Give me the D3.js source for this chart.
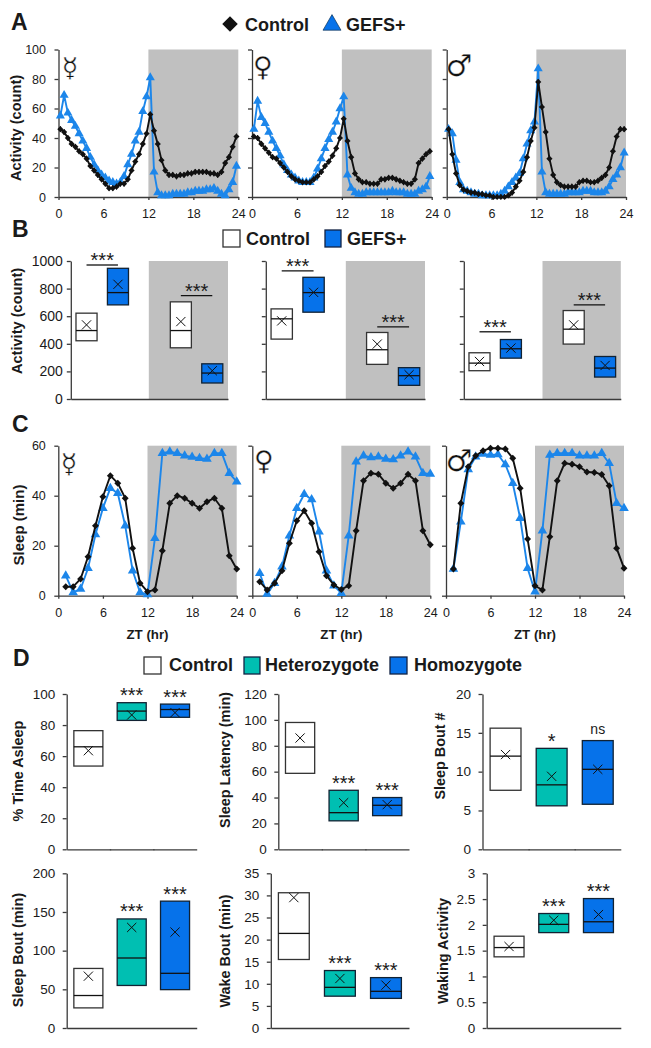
<!DOCTYPE html>
<html><head><meta charset="utf-8">
<script src="https://cdn.jsdelivr.net/npm/d3@7/dist/d3.min.js"></script>
<style>html,body{margin:0;background:#fff}svg{display:block}text{font-family:"Liberation Sans",Arial,sans-serif;fill:#1a1a1a}</style>
</head><body><svg id="c" width="651" height="1048"></svg>
<script>
// ---------- data ----------
const sexSymbols = ["\u263F","\u2640","\u2642"];
const activityTicks = [0,20,40,60,80,100];
const sleepTicks = [0,20,40,60];
const ztTicks = [0,6,12,18,24];
const boxTicksB = [0,200,400,600,800,1000];

const actCtrlHerm = [46,44,40,36,34,31,29,26,21,18,15,12,9,6,6,7,9,9,12,18,24,29,36,43,56,45,36,25,18,15,15,14,15,15,16,16,17,17,17,17,16,16,15,17,23,27,34,41];
const actGefsHerm = [55,69,57,52,48,43,38,33,27,22,18,15,13,11,10,9,10,14,22,29,38,44,58,68,81,17,3,1,1,1,2,2,2,2,3,3,4,4,4,5,5,6,4,2,1,5,10,21];
const actCtrlFem = [41,40,36,33,30,27,26,23,20,17,14,12,11,10,10,10,12,14,17,21,24,28,33,40,53,38,27,16,12,10,10,9,9,9,12,12,13,13,12,11,10,9,9,12,23,26,29,31];
const actGefsFem = [46,65,54,50,44,38,33,28,22,18,15,13,11,10,10,10,13,19,26,33,39,44,51,60,68,15,6,3,2,2,3,3,3,3,3,3,3,4,3,3,3,2,2,2,4,5,7,14];
const actCtrlMale = [46,29,16,8,5,4,3,3,2,2,1,1,0,0,0,0,1,3,7,11,17,27,38,47,78,61,44,26,15,10,8,7,7,7,7,10,11,11,10,10,11,13,15,20,31,41,46,46];
const actGefsMale = [46,43,25,10,5,4,3,2,2,1,1,1,1,1,2,4,7,10,13,16,26,36,45,51,87,17,3,2,2,2,2,2,3,3,3,3,4,4,4,3,3,3,4,7,12,15,20,30];

const slpCtrlHerm = [3.6,3.6,6.7,15.6,28,39.6,48,45,39,19,5,1.6,2.3,18,37,40,39,37,35,37.6,39,35,16,10.7];
const slpGefsHerm = [8,1.3,2.7,11,24.5,35,43,41,28,10,1.3,0.5,23,57,57.6,57,56,55.5,55,54.7,57,57,49,45.6];
const slpCtrlFem = [5.6,2.3,5,10,21,30,34,29,17.6,8,4.3,2.5,4,26,46,49,48.6,45,43,45,48.6,46,26,20.4];
const slpGefsFem = [9,0.7,5,11.6,24,35,40.6,38.5,25.6,10,4,1,24,53.6,56,55.3,55.6,54.7,54.5,56,57.6,55.6,49,48.7];
const slpCtrlMale = [10.7,37,51.6,56,58,59,59,58.7,55,43,22.7,4,2.3,23.6,46,53,52.6,51.6,49.5,49.3,48.5,44,19,11];
const slpGefsMale = [10.7,29.6,50.5,55.6,56.7,56.3,56.5,52.5,45,31,11,1.6,26,56.3,57,57,57,56,56,56,57,53,37,35];

const phaseGroups = ["lightControl","lightGefs","gap","darkControl","darkGefs"];
const bTop  = [[622,947,null,704,255],[653,882,null,482,227],[335,431,null,641,308]];
const bBot  = [[422,682,null,371,116],[434,629,null,251,99],[205,296,null,398,159]];
const bMed  = [[496,771,null,496,188],[581,771,null,357,169],[260,364,null,506,224]];
const bMean = [[537,831,null,561,205],[566,773,null,398,176],[272,369,null,537,243]];
const bSigLight = [971,928,487];
const bSigDark  = [749,523,682];

const genotypes = ["Control","Heterozygote","Homozygote"];
const dTitles = ["% Time Asleep","Sleep Latency (min)","Sleep Bout #","Sleep Bout (min)","Wake Bout (min)","Waking Activity"];
const dMax = [100,120,20,200,35,3];
const dTicks = [[0,20,40,60,80,100],[0,20,40,60,80,100,120],[0,5,10,15,20],[0,50,100,150,200],[0,5,10,15,20,25,30,35],[0,0.5,1,1.5,2,2.5,3]];
const dTop  = [[76.4,94.4,93.5],[98,45.6,40],[15.6,13,14],[77,141,164],[30.6,13,11.4],[1.78,2.22,2.51]];
const dBot  = [[53.6,83,85],[58.7,22,26],[7.6,5.6,5.8],[26,55,49.6],[15.5,7.2,6.7],[1.38,1.85,1.85]];
const dMed  = [[66,89,90],[79,28.3,34],[12,8.3,10.3],[42,90.5,70.7],[21.4,9.2,8.3],[1.56,2.01,2.06]];
const dMean = [[63.5,86.5,88],[86,36,34.5],[12.2,9.4,10.3],[67,130,124],[29.5,11.2,9.7],[1.58,2.09,2.2]];
const dSig  = [["","***","***"],["","***","***"],["","*","ns"],["","***","***"],["","***","***"],["","***","***"]];

// ---------- styles ----------
const BLUE_LINE="#1c86ea", BLUE_BOX="#0672ea", TEAL="#00bfb2", GRAY="#c0c0c0", AX="#3a3a3a", INK="#111";
const svg=d3.select("#c");

function label(x,y,str,size,weight,anchor,rot){
  const t=svg.append("text").attr("font-size",size).attr("font-weight",weight||"normal").attr("text-anchor",anchor||"start").text(str);
  t.attr("transform",`translate(${x},${y})`+(rot?` rotate(${rot})`:""));
  return t;
}
function sexMark(x,y,str,size){
  label(x,y,str,size,"normal","middle").style("font-family","'DejaVu Sans'").style("fill","#111").style("stroke","#fff").style("stroke-width",0.35);
}
function styleAxis(g,size){
  g.selectAll(".domain,line").attr("stroke",AX).attr("stroke-width",1.3);
  g.selectAll("text").attr("font-size",size).attr("fill","#222");
}
function leftAxis(x,yScale,ticks,labelled,size,pad){
  const a=d3.axisLeft(yScale).tickValues(ticks).tickSizeInner(4).tickSizeOuter(0).tickPadding(pad);
  a.tickFormat(labelled?(d=>d):(()=>""));
  const g=svg.append("g").attr("transform",`translate(${x},0)`).call(a);
  styleAxis(g,size);
}
function bottomAxis(y,xScale,ticks,labelled,size,tick,pad){
  const a=d3.axisBottom(xScale).tickValues(ticks).tickSizeInner(tick).tickSizeOuter(0).tickPadding(pad);
  a.tickFormat(labelled?(d=>d):(()=>""));
  const g=svg.append("g").attr("transform",`translate(0,${y})`).call(a);
  styleAxis(g,size);
}
function series(x,y,hours,vals,color,sym,size,err,rot){
  const line=d3.line().x((d,i)=>x(hours[i])).y(d=>y(d));
  if(err) svg.append("g").selectAll("line").data(vals).join("line")
    .attr("x1",(d,i)=>x(hours[i])).attr("x2",(d,i)=>x(hours[i]))
    .attr("y1",d=>y(Math.max(d-err,0))).attr("y2",d=>y(Math.min(d+err,y.domain()[1]))).attr("stroke",color).attr("stroke-width",1);
  svg.append("path").attr("d",line(vals)).attr("fill","none").attr("stroke",color).attr("stroke-width",1.9).attr("stroke-linejoin","round");
  svg.append("g").selectAll("path").data(vals).join("path")
    .attr("d",d3.symbol().type(sym).size(size)())
    .attr("transform",(d,i)=>`translate(${x(hours[i])},${y(d)})`+(rot?` rotate(${rot})`:"")).attr("fill",color);
}
function timePanel(x0,x1,yTop,yBot,yMax,ticks,hours,ctrl,gefs,labelled,fs,msCtrl,msGefs,err){
  const x=d3.scaleLinear().domain([0,24]).range([x0,x1]);
  const y=d3.scaleLinear().domain([0,yMax]).range([yBot,yTop]);
  svg.append("rect").attr("x",x(12)).attr("y",yTop).attr("width",x(24)-x(12)).attr("height",yBot-yTop).attr("fill",GRAY);
  leftAxis(x0,y,ticks,labelled,fs,8.5);
  bottomAxis(yBot,x,ztTicks,true,fs,3,9);
  series(x,y,hours,gefs,BLUE_LINE,d3.symbolTriangle,msGefs,0,0);
  series(x,y,hours,ctrl,INK,d3.symbolSquare,msCtrl,err,45);
}
function box(cx,w,yS,top,bot,med,mean,fill){
  const yt=yS(top), yb=yS(bot);
  svg.append("rect").attr("x",cx-w/2).attr("y",yt).attr("width",w).attr("height",yb-yt)
     .attr("fill",fill).attr("stroke",fill==="#fff"?"#333":"#123").attr("stroke-width",1.3);
  svg.append("line").attr("x1",cx-w/2).attr("x2",cx+w/2).attr("y1",yS(med)).attr("y2",yS(med)).attr("stroke","#111").attr("stroke-width",1.3);
  const m=yS(mean), r=4.6;
  svg.append("path").attr("d",`M${cx-r},${m-r}L${cx+r},${m+r}M${cx-r},${m+r}L${cx+r},${m-r}`).attr("stroke","#111").attr("stroke-width",1).attr("fill","none");
}
function stars(x,yCenter,str){ // centre the glyph vertically on yCenter
  if(str==="ns") label(x,yCenter+4,str,14,"normal","middle");
  else if(str) label(x,yCenter+10,str,20,"normal","middle");
}

// ---------- panel letters ----------
label(11,30,"A",23,"bold");
label(12,237,"B",23,"bold");
label(12,432,"C",23,"bold");
label(13,666,"D",23,"bold");

// ---------- panel A ----------
const halfHours=d3.range(48).map(i=>0.25+i*0.5);
const aX=[[58.5,238.3],[252,431.7],[446.7,626]];
const aC=[actCtrlHerm,actCtrlFem,actCtrlMale], aG=[actGefsHerm,actGefsFem,actGefsMale];
aX.forEach((r,i)=>timePanel(r[0],r[1],49.5,197,100,activityTicks,halfHours,aC[i],aG[i],i===0,12.5,19,36,2));
label(21,128,"Activity (count)",14.6,"bold","middle",-90);
svg.append("path").attr("d",d3.symbol().type(d3.symbolSquare).size(120)()).attr("transform","translate(230,24) rotate(45)").attr("fill",INK);
label(245,31,"Control",18,"bold");
svg.append("path").attr("d",d3.symbol().type(d3.symbolTriangle).size(140)()).attr("transform","translate(332,25)").attr("fill",BLUE_BOX).attr("stroke","#135").attr("stroke-width",.7);
label(346,31,"GEFS+",18,"bold");
sexMark(70,77,sexSymbols[0],27); sexMark(263,76,sexSymbols[1],27); sexMark(459,76,sexSymbols[2],30);

// ---------- panel B ----------
const bX=[[70.8,228,148.8],[265.8,425,345.8],[463.8,620.8,542.5]];
const bY=d3.scaleLinear().domain([0,1000]).range([399,261]);
bX.forEach((r,p)=>{
  const band=d3.scaleBand().domain(phaseGroups).range([r[0],r[1]]);
  svg.append("rect").attr("x",r[2]).attr("y",261).attr("width",r[1]-r[2]).attr("height",138).attr("fill",GRAY);
  leftAxis(r[0],bY,boxTicksB,p===0,14,4);
  const e=d3.scaleLinear().domain([0,5]).range([r[0],r[1]]);
  bottomAxis(399,e,[1,2,3,4],false,12,1,0);
  phaseGroups.forEach((g,i)=>{
    if(bTop[p][i]===null) return;
    box(band(g)+band.bandwidth()/2,band.bandwidth()*.67,bY,bTop[p][i],bBot[p][i],bMed[p][i],bMean[p][i],i%3===0?"#fff":BLUE_BOX);
  });
  const mid=(a,b)=>[band(a)+band.bandwidth()/2,band(b)+band.bandwidth()/2];
  [[mid("lightControl","lightGefs"),bSigLight[p]],[mid("darkControl","darkGefs"),bSigDark[p]]].forEach(s=>{
    svg.append("line").attr("x1",s[0][0]).attr("x2",s[0][1]).attr("y1",bY(s[1])).attr("y2",bY(s[1])).attr("stroke","#111").attr("stroke-width",1.3);
    stars((s[0][0]+s[0][1])/2,bY(s[1])-8,"***");
  });
});
label(22,321,"Activity (count)",14.6,"bold","middle",-90);
function legendBox(x,y,w,h,fill){svg.append("rect").attr("x",x).attr("y",y).attr("width",w).attr("height",h).attr("fill",fill).attr("stroke",fill==="#fff"?"#333":"#124").attr("stroke-width",1.3);}
legendBox(223,230,17,17,"#fff"); label(246,245,"Control",18,"bold");
legendBox(325,230,16,17,BLUE_BOX); label(347,245,"GEFS+",18,"bold");

// ---------- panel C ----------
const hours=d3.range(1,25);
const cX=[[58.3,236.7],[252.3,430.3],[446,624]];
const cC=[slpCtrlHerm,slpCtrlFem,slpCtrlMale], cG=[slpGefsHerm,slpGefsFem,slpGefsMale];
cX.forEach((r,i)=>{
  timePanel(r[0],r[1],445.7,595.7,60,sleepTicks,hours,cC[i],cG[i],i===0,12.5,24,40,1);
  label((r[0]+r[1])/2,639,"ZT (hr)",13.3,"bold","middle");
});
label(24,525,"Sleep (min)",15,"bold","middle",-90);
sexMark(69,473,sexSymbols[0],27); sexMark(264,470,sexSymbols[1],27); sexMark(459,471,sexSymbols[2],30);

// ---------- panel D ----------
const dLayout=[[66.7,196.7,694,849.3,.67,17.5],[278.3,409,694,849.3,.67,225],[482.5,620.8,694,849.3,.67,440],
               [66.7,196.7,873.3,1028,.67,17.5],[270.8,409,873.3,1028,.67,225],[486.7,620.8,873.3,1028,.67,443]];
const dCenters=[771,760,756,950,951,951];
const dFill=["#fff",TEAL,BLUE_BOX];
dLayout.forEach((l,p)=>{
  const y=d3.scaleLinear().domain([0,dMax[p]]).range([l[3],l[2]]);
  const band=d3.scaleBand().domain(genotypes).range([l[0],l[1]]);
  leftAxis(l[0],y,dTicks[p],true,13.5,7.5);
  const e=d3.scaleLinear().domain([0,3]).range([l[0],l[1]]);
  bottomAxis(l[3],e,[1,2],false,12,1,0);
  genotypes.forEach((g,i)=>{
    const cx=band(g)+band.bandwidth()/2;
    box(cx,band.bandwidth()*l[4],y,dTop[p][i],dBot[p][i],dMed[p][i],dMean[p][i],dFill[i]);
    stars(cx,y(dTop[p][i])-10.5,dSig[p][i]);
  });
  label(l[5]+5,dCenters[p],dTitles[p],14.4,"bold","middle",-90);
});
legendBox(144,657,17,17,"#fff"); label(169,671,"Control",18,"bold");
legendBox(244,657,16,17,TEAL); label(265,671,"Heterozygote",18,"bold");
legendBox(390,657,17,17,BLUE_BOX); label(414,671,"Homozygote",18,"bold");
</script></body></html>
